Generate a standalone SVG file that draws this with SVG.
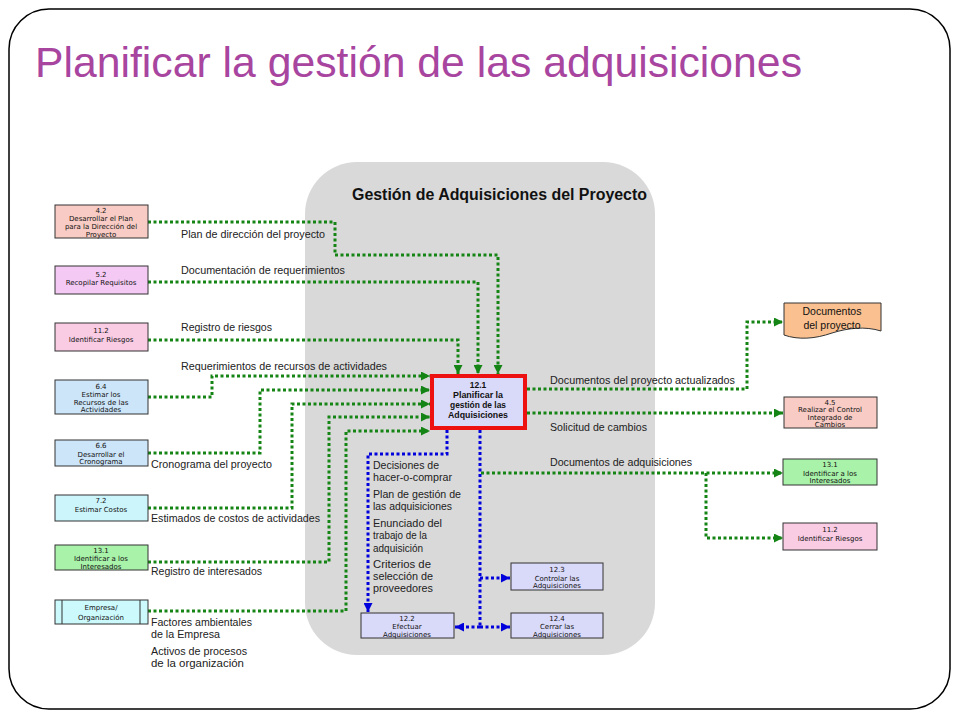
<svg xmlns="http://www.w3.org/2000/svg" width="960" height="720" viewBox="0 0 960 720">
<defs>
<marker id="ag" markerUnits="userSpaceOnUse" markerWidth="9" markerHeight="9" refX="9" refY="4.5" orient="auto"><path d="M0,0 L9,4.5 L0,9 z" fill="#148414"/></marker>
<marker id="ab" markerUnits="userSpaceOnUse" markerWidth="9" markerHeight="9" refX="9" refY="4.5" orient="auto"><path d="M0,0 L9,4.5 L0,9 z" fill="#0000dd"/></marker>
<style>
.g{fill:none;stroke:#148414;stroke-width:3;stroke-dasharray:3 2.5;marker-end:url(#ag)}
.b{fill:none;stroke:#0000dd;stroke-width:3;stroke-dasharray:3 2.5}
.bm{marker-end:url(#ab)}
.bx{stroke:#333;stroke-width:1}
.t{font-family:"DejaVu Sans",sans-serif;font-size:7px;fill:#111;text-anchor:middle}
.l{font-family:"Liberation Sans",Arial,sans-serif;font-size:11px;fill:#222}
.h{font-family:"Liberation Sans",Arial,sans-serif;font-size:8.5px;font-weight:bold;fill:#111;text-anchor:middle}
</style>
</defs>
<rect x="9" y="9" width="941" height="700" rx="40" fill="#fff" stroke="#000" stroke-width="1.5"/>
<text x="35" y="77" font-family="Liberation Sans,Arial,sans-serif" font-size="43" fill="#A8459F" textLength="767" lengthAdjust="spacingAndGlyphs">Planificar la gestión de las adquisiciones</text>
<rect x="305" y="162" width="350" height="493" rx="52" fill="#d9d9d9"/>
<text x="352" y="200" font-family="Liberation Sans,Arial,sans-serif" font-size="16" font-weight="bold" fill="#111" textLength="295" lengthAdjust="spacingAndGlyphs">Gestión de Adquisiciones del Proyecto</text>

<g id="connectors">
<path class="g" d="M148,222 H335 V255 H498 V374"/>
<path class="g" d="M148,282 H478 V374"/>
<path class="g" d="M148,340 H458 V374"/>
<path class="g" d="M148,397 H212 V376 H430"/>
<path class="g" d="M148,453 H260 V390 H430"/>
<path class="g" d="M148,508 H292 V404 H430"/>
<path class="g" d="M148,562 H329 V417 H430"/>
<path class="g" d="M148,611 H346 V431 H430"/>
<path class="g" d="M527,389 H747 V322 H783"/>
<path class="g" d="M527,413 H783"/>
<path class="g" d="M481,473 H783"/>
<path class="g" d="M706,473 V538 H783"/>
<path class="b bm" d="M447,430 V454 H368 V612"/>
<path class="b" d="M480,430 V627"/>
<path class="b bm" d="M480,578 H510"/>
<path class="b bm" d="M480,627 H510"/>
<path class="b bm" d="M480,627 H455"/>
</g>

<g id="labels">
<text class="l" x="181" y="238" textLength="144" lengthAdjust="spacingAndGlyphs">Plan de dirección del proyecto</text>
<text class="l" x="181" y="274" textLength="164" lengthAdjust="spacingAndGlyphs">Documentación de requerimientos</text>
<text class="l" x="181" y="331" textLength="91" lengthAdjust="spacingAndGlyphs">Registro de riesgos</text>
<text class="l" x="181" y="370" textLength="206" lengthAdjust="spacingAndGlyphs">Requerimientos de recursos de actividades</text>
<text class="l" x="151" y="468" textLength="121" lengthAdjust="spacingAndGlyphs">Cronograma del proyecto</text>
<text class="l" x="151" y="522" textLength="169" lengthAdjust="spacingAndGlyphs">Estimados de costos de actividades</text>
<text class="l" x="151" y="575" textLength="111" lengthAdjust="spacingAndGlyphs">Registro de interesados</text>
<text class="l" x="151" y="626" textLength="101" lengthAdjust="spacingAndGlyphs">Factores ambientales</text>
<text class="l" x="151" y="638" textLength="69" lengthAdjust="spacingAndGlyphs">de la Empresa</text>
<text class="l" x="151" y="655" textLength="96" lengthAdjust="spacingAndGlyphs">Activos de procesos</text>
<text class="l" x="151" y="667" textLength="93" lengthAdjust="spacingAndGlyphs">de la organización</text>
<text class="l" x="550" y="384" textLength="185" lengthAdjust="spacingAndGlyphs">Documentos del proyecto actualizados</text>
<text class="l" x="550" y="431" textLength="97" lengthAdjust="spacingAndGlyphs">Solicitud de cambios</text>
<text class="l" x="550" y="466" textLength="142" lengthAdjust="spacingAndGlyphs">Documentos de adquisiciones</text>
<text class="l" x="373" y="469" textLength="66" lengthAdjust="spacingAndGlyphs">Decisiones de</text>
<text class="l" x="373" y="481" textLength="79" lengthAdjust="spacingAndGlyphs">hacer-o-comprar</text>
<text class="l" x="373" y="498" textLength="88" lengthAdjust="spacingAndGlyphs">Plan de gestión de</text>
<text class="l" x="373" y="510" textLength="79" lengthAdjust="spacingAndGlyphs">las adquisiciones</text>
<text class="l" x="373" y="527" textLength="69" lengthAdjust="spacingAndGlyphs">Enunciado del</text>
<text class="l" x="373" y="539" textLength="54" lengthAdjust="spacingAndGlyphs">trabajo de la</text>
<text class="l" x="373" y="552" textLength="50" lengthAdjust="spacingAndGlyphs">adquisición</text>
<text class="l" x="373" y="568" textLength="58" lengthAdjust="spacingAndGlyphs">Criterios de</text>
<text class="l" x="373" y="580" textLength="60" lengthAdjust="spacingAndGlyphs">selección de</text>
<text class="l" x="373" y="592" textLength="60" lengthAdjust="spacingAndGlyphs">proveedores</text>
</g>

<g id="n42"><rect class="bx" x="55" y="205" width="93" height="33" fill="#F8CCC4"/>
<text class="t" x="101" y="213">4.2</text><text class="t" x="101" y="221">Desarrollar el Plan</text><text class="t" x="101" y="229">para la Dirección del</text><text class="t" x="101" y="236.5">Proyecto</text></g>
<g id="n52"><rect class="bx" x="55" y="266" width="93" height="28" fill="#F4C9F4"/>
<text class="t" x="101" y="277">5.2</text><text class="t" x="101" y="285">Recopilar Requisitos</text></g>
<g id="n112"><rect class="bx" x="55" y="323" width="93" height="28" fill="#F9CCE4"/>
<text class="t" x="101" y="333">11.2</text><text class="t" x="101" y="341.5">Identificar Riesgos</text></g>
<g id="n64"><rect class="bx" x="55" y="380" width="93" height="34" fill="#CDE5F8"/>
<text class="t" x="101" y="388.5">6.4</text><text class="t" x="101" y="396.5">Estimar los</text><text class="t" x="101" y="404.5">Recursos de las</text><text class="t" x="101" y="412">Actividades</text></g>
<g id="n66"><rect class="bx" x="55" y="440" width="93" height="26" fill="#CDE5F8"/>
<text class="t" x="101" y="448">6.6</text><text class="t" x="101" y="456.5">Desarrollar el</text><text class="t" x="101" y="464">Cronograma</text></g>
<g id="n72"><rect class="bx" x="55" y="495" width="93" height="26" fill="#CCF5FB"/>
<text class="t" x="101" y="503">7.2</text><text class="t" x="101" y="512">Estimar Costos</text></g>
<g id="n131"><rect class="bx" x="55" y="545" width="93" height="25" fill="#A9F2A9"/>
<text class="t" x="101" y="553">13.1</text><text class="t" x="101" y="561">Identificar a los</text><text class="t" x="101" y="568.5">Interesados</text></g>
<g id="nemp"><rect class="bx" x="55" y="600" width="93" height="24" fill="#CCF9FC"/>
<line class="bx" x1="62" y1="600" x2="62" y2="624"/><line class="bx" x1="140" y1="600" x2="140" y2="624"/>
<text class="t" x="101" y="610">Empresa/</text><text class="t" x="101" y="620">Organización</text></g>

<g id="n121"><rect x="432" y="376" width="93" height="52" fill="#D9D9F9" stroke="#ee1111" stroke-width="4"/>
<text class="h" x="478" y="387.5">12.1</text><text class="h" x="478" y="397.5" textLength="50" lengthAdjust="spacingAndGlyphs">Planificar la</text><text class="h" x="478" y="407.5" textLength="56" lengthAdjust="spacingAndGlyphs">gestión de las</text><text class="h" x="478" y="417.5" textLength="60" lengthAdjust="spacingAndGlyphs">Adquisiciones</text></g>
<g id="n122"><rect class="bx" x="361" y="613" width="93" height="25" fill="#D9D9F9"/>
<text class="t" x="407" y="620.5">12.2</text><text class="t" x="407" y="629">Efectuar</text><text class="t" x="407" y="636.5">Adquisiciones</text></g>
<g id="n123"><rect class="bx" x="511" y="563" width="92" height="27" fill="#D9D9F9"/>
<text class="t" x="557" y="572">12.3</text><text class="t" x="557" y="580.5">Controlar las</text><text class="t" x="557" y="588">Adquisiciones</text></g>
<g id="n124"><rect class="bx" x="511" y="613" width="92" height="25" fill="#D9D9F9"/>
<text class="t" x="557" y="620.5">12.4</text><text class="t" x="557" y="629">Cerrar las</text><text class="t" x="557" y="636.5">Adquisiciones</text></g>

<g id="ndoc"><path class="bx" d="M784,303 H881 V331 C865,326 848,328 832,333 C815,339 798,340 784,335 Z" fill="#FAC08F"/>
<text x="832" y="315" font-family="Liberation Sans,Arial,sans-serif" font-size="10.5" fill="#111" text-anchor="middle">Documentos</text>
<text x="832" y="329" font-family="Liberation Sans,Arial,sans-serif" font-size="10.5" fill="#111" text-anchor="middle">del proyecto</text></g>
<g id="n45"><rect class="bx" x="784" y="397" width="93" height="31" fill="#F8CCC4"/>
<text class="t" x="830" y="404.5">4.5</text><text class="t" x="830" y="412">Realizar el Control</text><text class="t" x="830" y="419.5">Integrado de</text><text class="t" x="830" y="427">Cambios</text></g>
<g id="n131r"><rect class="bx" x="783" y="459" width="94" height="26" fill="#A9F2A9"/>
<text class="t" x="830" y="467">13.1</text><text class="t" x="830" y="475.5">Identificar a los</text><text class="t" x="830" y="483">Interesados</text></g>
<g id="n112r"><rect class="bx" x="783" y="523" width="94" height="27" fill="#F9CCE4"/>
<text class="t" x="830" y="532">11.2</text><text class="t" x="830" y="541">Identificar Riesgos</text></g>
</svg>
